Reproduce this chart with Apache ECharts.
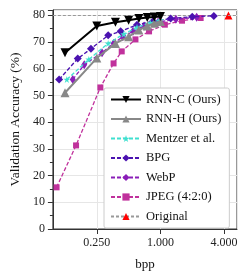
<!DOCTYPE html>
<html><head><meta charset="utf-8">
<script src="https://cdn.jsdelivr.net/npm/echarts@6/dist/echarts.min.js"></script>
<style>html,body{margin:0;padding:0;background:#fff}#c{width:249px;height:276px}</style>
</head><body><div id="c"></div>
<script>
var rnnX = [0.125, 0.25, 0.375, 0.5, 0.625, 0.75, 0.875, 1.0];
var rnnC = [66, 76, 77.4, 78.2, 78.8, 79.2, 79.4, 79.6];
var rnnH = [51, 64, 69.5, 72, 74.5, 76, 77, 77.7];
var mentzerX = [0.13, 0.21, 0.32, 0.45, 0.6, 0.8, 1.0];
var mentzerY = [56, 63.5, 69.5, 73, 75.5, 77.2, 78.3];
var bpgX = [0.11, 0.165, 0.22, 0.32, 0.42, 0.6, 0.85, 1.25, 2.0, 3.2];
var bpgY = [56, 63.8, 67.5, 72.5, 74, 76.5, 77.8, 78.8, 79.5, 79.8];
var webpX = [0.148, 0.19, 0.28, 0.36, 0.44, 0.55, 0.7, 0.95, 1.4, 2.2];
var webpY = [56, 61.5, 66, 69.5, 72, 74, 76, 77.5, 78.5, 79.3];
var jpegX = [0.104, 0.159, 0.27, 0.36, 0.43, 0.58, 0.78, 1.1, 1.6, 2.4];
var jpegY = [15.6, 31.3, 53, 62, 66.5, 71, 74, 76.5, 78, 79];
var origX = [4.4];
var origY = [79.9];
var xTicks = ['0.250', '1.000', '4.000'];

function pairs(xs, ys){ return xs.map(function(x,i){ return [x, ys[i]]; }); }
var font = 'Liberation Serif';
var star = 'path://M50,0 L61,35 L98,35 L68,57 L79,91 L50,70 L21,91 L32,57 L2,35 L39,35 Z';

var chart = echarts.init(document.getElementById('c'), null, {renderer:'canvas'});
chart.setOption({
  animation:false,
  textStyle:{fontFamily:font},
  grid:{left:48, right:12, top:10, bottom:46, show:true, borderColor:'#333', borderWidth:1},
  xAxis:{type:'log', logBase:4, min:0.096, max:5.3,
    name:'bpp', nameLocation:'middle', nameGap:29,
    nameTextStyle:{fontFamily:font, fontSize:13, color:'#111'},
    axisLine:{lineStyle:{color:'#333'}},
    axisTick:{show:true, lineStyle:{color:'#333'}},
    axisLabel:{fontFamily:font, fontSize:12, color:'#222', showMinLabel:false, showMaxLabel:false,
      formatter:function(v){ var s=v.toFixed(3); return xTicks.indexOf(s)>=0 ? s : ''; }},
    splitLine:{show:true, lineStyle:{color:'#e6e6e6'}}
  },
  yAxis:{type:'value', min:0, max:82, interval:10,
    name:'Validation Accuracy (%)', nameLocation:'middle', nameGap:30,
    nameTextStyle:{fontFamily:font, fontSize:13.5, color:'#111'},
    axisLine:{show:true, lineStyle:{color:'#333'}},
    axisTick:{show:true, lineStyle:{color:'#333'}},
    minorTick:{show:true, splitNumber:2, length:3, lineStyle:{color:'#333'}},
    axisLabel:{fontFamily:font, fontSize:12, color:'#222', showMaxLabel:false,
      formatter:function(v){ return v%10===0 ? String(v) : ''; }},
    splitLine:{show:true, lineStyle:{color:'#e6e6e6'}}
  },
  legend:{orient:'vertical', left:104, top:88, itemGap:6.5, itemWidth:30, itemHeight:9,
    backgroundColor:'#fff', borderColor:'#ccc', borderWidth:1, borderRadius:2, padding:[5,8,5,6],
    textStyle:{fontFamily:font, fontSize:12.5, color:'#111'}},
  series:[
    {name:'RNN-C (Ours)', type:'line', data:pairs(rnnX, rnnC), symbol:'triangle', symbolRotate:180, symbolSize:9,
      lineStyle:{color:'#000', width:2}, itemStyle:{color:'#000'}, z:10},
    {name:'RNN-H (Ours)', type:'line', data:pairs(rnnX, rnnH), symbol:'triangle', symbolSize:9,
      lineStyle:{color:'#888', width:2}, itemStyle:{color:'#888'}, z:9},
    {name:'Mentzer et al.', type:'line', data:pairs(mentzerX, mentzerY), symbol:star, symbolSize:7,
      lineStyle:{color:'#40e0d0', width:1.3, type:[4,2]}, itemStyle:{color:'#40e0d0'}, z:8},
    {name:'BPG', type:'line', data:pairs(bpgX, bpgY), symbol:'diamond', symbolSize:8,
      lineStyle:{color:'#4b12b0', width:1.3, type:[4,2]}, itemStyle:{color:'#4b12b0'}, z:7},
    {name:'WebP', type:'line', data:pairs(webpX, webpY), symbol:'diamond', symbolSize:[6,9],
      lineStyle:{color:'#8a1eb8', width:1.3, type:[4,2]}, itemStyle:{color:'#8a1eb8'}, z:6},
    {name:'JPEG (4:2:0)', type:'line', data:pairs(jpegX, jpegY), symbol:'rect', symbolSize:6,
      lineStyle:{color:'#c0319c', width:1.3, type:[4,2]}, itemStyle:{color:'#c0319c'}, z:5},
    {name:'Original', type:'line', data:pairs(origX, origY), symbol:'triangle', symbolSize:8,
      lineStyle:{color:'#999', width:1, type:[3,2]}, itemStyle:{color:'#ff0000'}, z:4,
      markLine:{silent:true, symbol:'none', label:{show:false},
        lineStyle:{color:'#999', width:1, type:[3,2]}, data:[{yAxis:origY[0]}]}}
  ]
});
</script></body></html>
